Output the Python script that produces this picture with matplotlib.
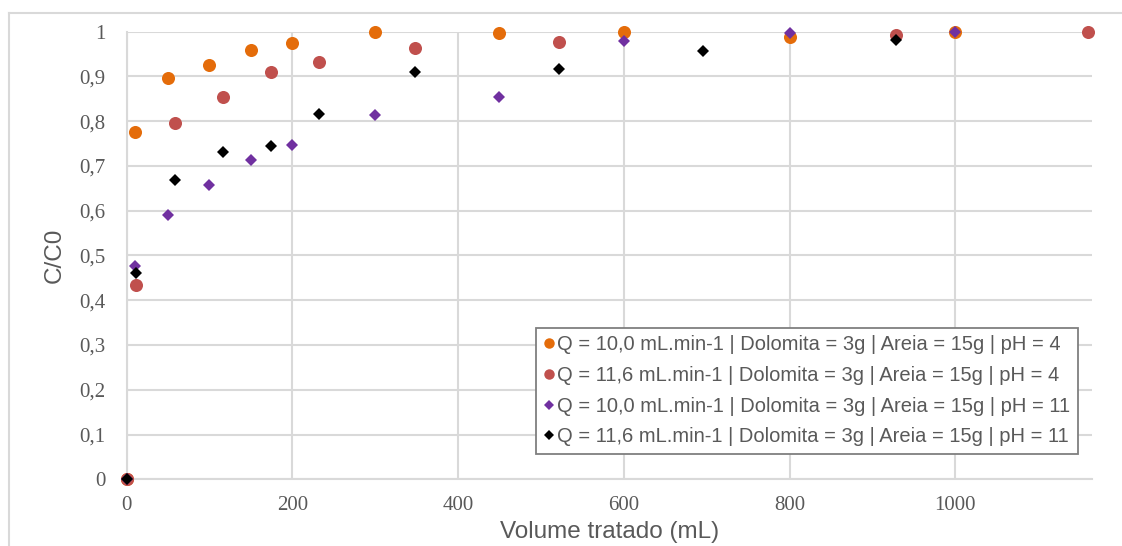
import matplotlib
matplotlib.use("Agg")
import matplotlib.pyplot as plt
from matplotlib.ticker import FuncFormatter, MultipleLocator
from matplotlib.lines import Line2D

# volume tratado (mL)
x_q10 = [0, 10, 50, 100, 150, 200, 300, 450, 600, 800, 1000]
x_q116_ph4 = [0, 11.6, 58, 116, 174, 232, 348, 522, 928, 1160]
x_q116_ph11 = [0, 11.6, 58, 116, 174, 232, 348, 522, 696, 928]

# C/C0
cc0_q10_ph4 = [0, 0.777, 0.897, 0.925, 0.960, 0.975, 1.0, 0.998, 1.0, 0.988, 1.0]
cc0_q116_ph4 = [0, 0.433, 0.797, 0.853, 0.909, 0.932, 0.964, 0.976, 0.993, 1.0]
cc0_q10_ph11 = [0, 0.477, 0.590, 0.658, 0.714, 0.746, 0.815, 0.853, 0.980, 0.996, 0.999]
cc0_q116_ph11 = [0, 0.460, 0.668, 0.731, 0.744, 0.816, 0.909, 0.917, 0.956, 0.981]

labels = ["Q = 10,0 mL.min-1 | Dolomita = 3g | Areia = 15g | pH = 4",
          "Q = 11,6 mL.min-1 | Dolomita = 3g | Areia = 15g | pH = 4",
          "Q = 10,0 mL.min-1 | Dolomita = 3g | Areia = 15g | pH = 11",
          "Q = 11,6 mL.min-1 | Dolomita = 3g | Areia = 15g | pH = 11"]

W, H = 1122, 546
fig = plt.figure(figsize=(W/100, H/100), dpi=100)
L, R, T, B = 126.5, 1092, 31.7, 479.3
ax = fig.add_axes([L/W, 1-B/H, (R-L)/W, (B-T)/H])

grid_c = "#d9d9d9"
txt_c = "#595959"

ax.plot(x_q10, cc0_q10_ph4, "o", color="#e46c0a", ms=9.4, mew=0, label=labels[0], zorder=3, clip_on=False)
ax.plot(x_q116_ph4, cc0_q116_ph4, "o", color="#c0504d", ms=9.4, mew=0, label=labels[1], zorder=3, clip_on=False)
ax.plot(x_q10, cc0_q10_ph11, "D", color="#7030a0", ms=6.3, mew=0, label=labels[2], zorder=3, clip_on=False)
ax.plot(x_q116_ph11, cc0_q116_ph11, "D", color="#000000", ms=6.3, mew=0, label=labels[3], zorder=3, clip_on=False)

ax.set_xlim(0, 1165)
ax.set_ylim(0, 1)
ax.xaxis.set_major_locator(MultipleLocator(200))
ax.yaxis.set_major_locator(MultipleLocator(0.1))
ax.yaxis.set_major_formatter(FuncFormatter(lambda v, p: ("%.1f" % v).replace(".", ",").replace("0,0", "0").replace("1,0", "1")))
ax.grid(True, color=grid_c, lw=1.5, zorder=0)
ax.set_axisbelow(True)
for s in ["top", "right"]:
    ax.spines[s].set_visible(False)
for s in ["left", "bottom"]:
    ax.spines[s].set_color(grid_c)
    ax.spines[s].set_linewidth(1.5)

ax.tick_params(length=0, labelcolor=txt_c, labelsize=15)
ax.tick_params(axis="y", pad=15)
ax.tick_params(axis="x", pad=12)
for t in ax.get_xticklabels() + ax.get_yticklabels():
    t.set_family("Liberation Serif")

ax.set_xlabel("Volume tratado (mL)", family="Liberation Sans", fontsize=17.5, color=txt_c, labelpad=4)
ax.set_ylabel("C/C0", family="Liberation Sans", fontsize=17.5, color=txt_c, labelpad=10)

leg = ax.legend(loc="lower right", bbox_to_anchor=(0.9855, 0.0565), borderaxespad=0,
                prop={"family": "Liberation Sans", "size": 14.5}, labelcolor=txt_c,
                markerscale=0.8, handlelength=0.55, handletextpad=0.12, labelspacing=0.58,
                borderpad=0.38, fancybox=False, framealpha=1, edgecolor="#7f7f7f")
leg.get_frame().set_linewidth(1.3)
leg.set_zorder(5)

# chart area border (top and left only visible)
fig.add_artist(Line2D([9/W, 1], [1-13/H, 1-13/H], transform=fig.transFigure, color=grid_c, lw=1.5))
fig.add_artist(Line2D([9/W, 9/W], [0, 1-13/H], transform=fig.transFigure, color=grid_c, lw=1.5))

fig.savefig("out.png", dpi=100)
